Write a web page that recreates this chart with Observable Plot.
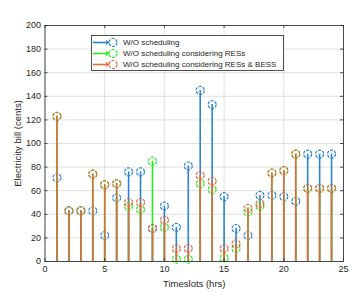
<!DOCTYPE html>
<html>
<head>
<meta charset="utf-8">
<script src="https://cdn.jsdelivr.net/npm/d3@7"></script>
<script src="https://cdn.jsdelivr.net/npm/@observablehq/plot@0.6"></script>
<style>
  html, body { margin: 0; padding: 0; background: #fff; }
  #wrap { position: relative; width: 357px; height: 294px; }
  #legend { position: absolute; left: 91px; top: 35px; }
</style>
</head>
<body>
<div id="wrap"></div>
<script>
const timeslots = [1,2,3,4,5,6,7,8,9,10,11,12,13,14,15,16,17,18,19,20,21,22,23,24];
const woScheduling = [71,43,43,43,22,54,76,76,28,47,29,81,145,133,55,28,22,56,56,55,51,91,91,91];
const woSchedulingRES = [123,43,43,74,65,66,47,44,85,29,2,2,66,61,3,11,42,47,75,77,91,62,62,62];
const woSchedulingRESBESS = [123,43,43,74,65,66,50,50,28,35,11,11,73,68,11,15,45,49,75,77,91,62,62,62];
const seriesNames = ["W/O scheduling", "W/O scheduling considering RESs", "W/O scheduling considering RESs & BESS"];
const xTicks = [0,5,10,15,20,25];
const yTicks = [0,20,40,60,80,100,120,140,160,180,200];

const colors = ["#2a84cf", "#22ee22", "#e3693d"];
const allSeries = [woScheduling, woSchedulingRES, woSchedulingRESBESS];

const marks = [];
marks.push(Plot.gridX(xTicks, {stroke: "#000", strokeOpacity: 0.12}));
marks.push(Plot.gridY(yTicks, {stroke: "#000", strokeOpacity: 0.12}));

allSeries.forEach((vals, i) => {
  const data = timeslots.map((t, j) => ({t, v: vals[j]}));
  marks.push(Plot.ruleX(data, {x: "t", y1: 0, y2: "v", stroke: colors[i], strokeWidth: 1.6}));
  marks.push(Plot.dot(data, {x: "t", y: "v", r: 4, stroke: colors[i], fill: "none", strokeWidth: 1.2, strokeDasharray: "3,1.2"}));
});

marks.push(Plot.frame({stroke: "#262626", strokeWidth: 0.8}));
marks.push(Plot.ruleY(yTicks, {x1: 0, x2: 0.25, stroke: "#262626", strokeWidth: 0.8}));
marks.push(Plot.ruleY(yTicks, {x1: 24.75, x2: 25, stroke: "#262626", strokeWidth: 0.8}));
marks.push(Plot.ruleX(xTicks, {y1: 0, y2: 2.5, stroke: "#262626", strokeWidth: 0.8}));
marks.push(Plot.ruleX(xTicks, {y1: 197.5, y2: 200, stroke: "#262626", strokeWidth: 0.8}));

marks.push(Plot.axisX(xTicks, {tickSize: 0, tickPadding: 4, fontSize: 9, color: "#262626",
  label: "Timeslots (hrs)", labelAnchor: "center", labelArrow: "none", labelOffset: 25}));
marks.push(Plot.axisY(yTicks, {tickSize: 0, tickPadding: 4, fontSize: 9, color: "#262626",
  label: "Electricity bill (cents)", labelAnchor: "center", labelArrow: "none", labelOffset: 31}));

const chart = Plot.plot({
  width: 357,
  height: 294,
  marginLeft: 44.5,
  marginRight: 14,
  marginTop: 25,
  marginBottom: 33,
  style: {fontFamily: "Liberation Sans, Arial, sans-serif", fontSize: "9px", color: "#262626", background: "#fff"},
  x: {domain: [0, 25]},
  y: {domain: [0, 200]},
  marks
});
const wrap = document.getElementById("wrap");
wrap.appendChild(chart);
d3.select(chart).selectAll('g[aria-label="x-axis label"] text, g[aria-label="y-axis label"] text')
  .attr("font-size", 9.5);

const lw = 193, lh = 36;
const leg = d3.create("svg").attr("id", "legend").attr("width", lw).attr("height", lh)
  .style("font-family", "Liberation Sans, Arial, sans-serif");
leg.append("rect").attr("x", 0.5).attr("y", 0.5).attr("width", lw - 1).attr("height", lh - 1)
  .attr("fill", "#fff").attr("stroke", "#262626").attr("stroke-width", 0.8);
seriesNames.forEach((name, i) => {
  const y = 7.5 + i * 11;
  leg.append("line").attr("x1", 2).attr("x2", 17).attr("y1", y).attr("y2", y)
    .attr("stroke", colors[i]).attr("stroke-width", 1.6);
  leg.append("path").attr("d", `M15,${y-2}L17.5,${y}L15,${y+2}`).attr("fill", "none")
    .attr("stroke", colors[i]).attr("stroke-width", 1.1);
  leg.append("circle").attr("cx", 22).attr("cy", y).attr("r", 4).attr("fill", "none")
    .attr("stroke", colors[i]).attr("stroke-width", 1.2).attr("stroke-dasharray", "3,1.2");
  leg.append("text").attr("x", 32).attr("y", y).attr("dy", "0.35em").attr("font-size", 8)
    .attr("fill", "#262626").text(name);
});
wrap.appendChild(leg.node());
</script>
</body>
</html>
